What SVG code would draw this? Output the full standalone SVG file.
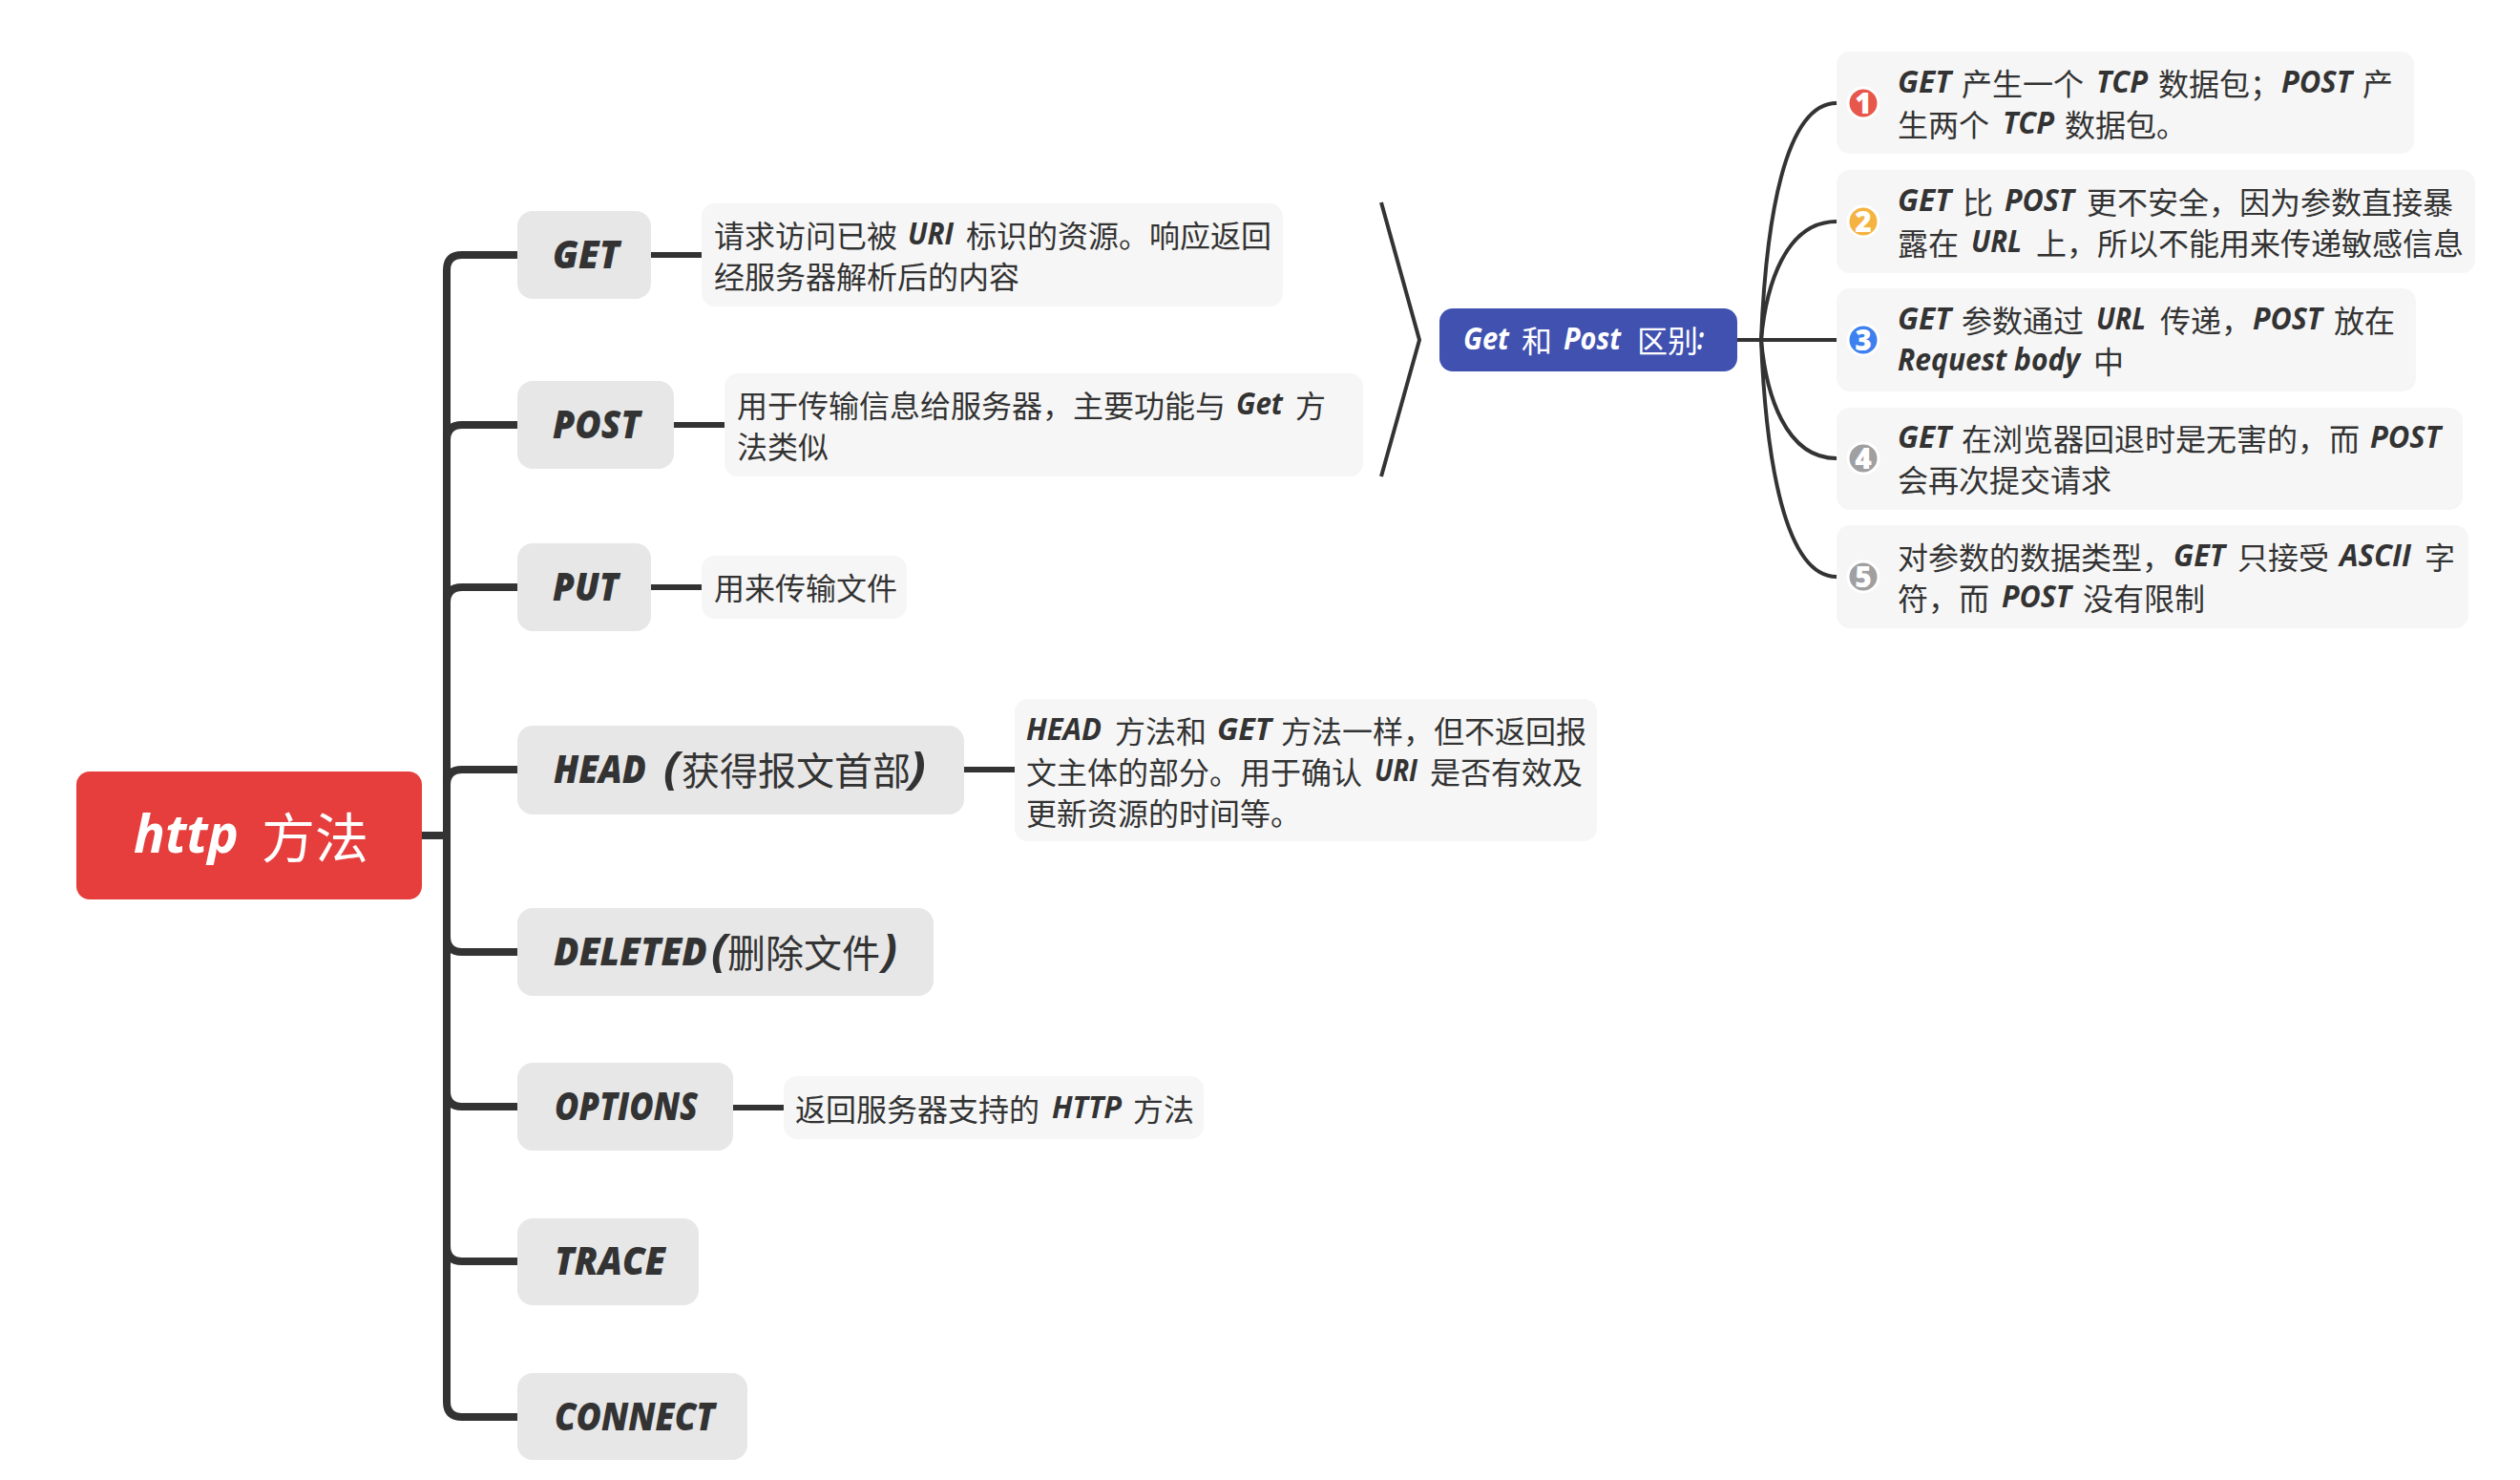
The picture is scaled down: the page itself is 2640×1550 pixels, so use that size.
<svg xmlns="http://www.w3.org/2000/svg" width="2640" height="1550" viewBox="0 0 2640 1550">
<style>
text{font-family:"Noto Sans CJK SC","Noto Sans",sans-serif;font-size:32px;fill:#333;font-weight:400}
.l{font-family:"Open Sans","Noto Sans",sans-serif;font-style:italic;font-weight:700;baseline-shift:3px}
.m{font-size:40px;font-weight:400}
.m .l{baseline-shift:0;font-weight:800}
.m.m2 .l{baseline-shift:2px}
.m .p{font-size:46px;font-weight:700}
.w{fill:#fff;font-weight:400}
.w .l{fill:#fff;font-weight:700}
.n{fill:#e7e7e7}
.t{fill:#f6f6f6}
.tr{fill:none;stroke:#333;stroke-width:8}
.br{fill:none;stroke:#333;stroke-width:6}
.th{fill:none;stroke:#333;stroke-width:4}
.mk{stroke:#fff;stroke-width:3}
.d{font-family:"Open Sans",sans-serif;font-size:30px;font-weight:800;fill:#fff;text-anchor:middle}
</style>
<rect width="2640" height="1550" fill="#fff"/>
<g id="connectors">
<path class="tr" d="M442 875H468"/>
<path class="tr" d="M468 875V283Q468 267 484 267H542"/>
<path class="tr" d="M468 875V461Q468 445 484 445H542"/>
<path class="tr" d="M468 875V631Q468 615 484 615H542"/>
<path class="tr" d="M468 875V822Q468 806 484 806H542"/>
<path class="tr" d="M468 875V981Q468 997 484 997H542"/>
<path class="tr" d="M468 875V1143Q468 1159 484 1159H542"/>
<path class="tr" d="M468 875V1305Q468 1321 484 1321H542"/>
<path class="tr" d="M468 875V1468Q468 1484 484 1484H542"/>
<path class="br" d="M682 267H735"/>
<path class="br" d="M706 445H759"/>
<path class="br" d="M682 615H735"/>
<path class="br" d="M1010 806H1063"/>
<path class="br" d="M768 1160H821"/>
<path class="th" d="M1447 212L1487 356L1447 499"/>
<path class="th" d="M1820 356H1924"/>
<path class="th" d="M1845 356C1850 230 1870 108 1924 108"/>
<path class="th" d="M1845 356C1850 300 1870 232 1924 232"/>
<path class="th" d="M1845 356C1850 412 1870 480 1924 480"/>
<path class="th" d="M1845 356C1850 482 1870 604 1924 604"/>
</g>
<g id="root"><rect x="80" y="808" width="362" height="134" rx="14" fill="#e53e3c"/>
<text class="w" y="898" style="font-size:56px"><tspan class="l" style="baseline-shift:5px" x="140" textLength="110" lengthAdjust="spacingAndGlyphs">http</tspan><tspan x="274">方法</tspan></text></g>
<g id="get"><rect class="n" x="542" y="221" width="140" height="92" rx="16"/><text class="m" y="281"><tspan class="l" x="579" textLength="70" lengthAdjust="spacingAndGlyphs">GET</tspan></text></g>
<g id="get-note"><rect class="t" x="735" y="213" width="609" height="108" rx="14"/>
<text y="259"><tspan x="748">请求访问已被</tspan><tspan class="l" x="951" textLength="48" lengthAdjust="spacingAndGlyphs">URI</tspan><tspan x="1012">标识的资源。响应返回</tspan></text>
<text y="302"><tspan x="748">经服务器解析后的内容</tspan></text></g>
<g id="post"><rect class="n" x="542" y="399" width="164" height="92" rx="16"/><text class="m" y="459"><tspan class="l" x="579" textLength="92" lengthAdjust="spacingAndGlyphs">POST</tspan></text></g>
<g id="post-note"><rect class="t" x="759" y="391" width="669" height="108" rx="14"/>
<text y="437"><tspan x="772">用于传输信息给服务器，主要功能与</tspan><tspan class="l" x="1295" textLength="49" lengthAdjust="spacingAndGlyphs">Get</tspan><tspan x="1357">方</tspan></text>
<text y="480"><tspan x="772">法类似</tspan></text></g>
<g id="put"><rect class="n" x="542" y="569" width="140" height="92" rx="16"/><text class="m" y="629"><tspan class="l" x="579" textLength="69" lengthAdjust="spacingAndGlyphs">PUT</tspan></text></g>
<g id="put-note"><rect class="t" x="735" y="582" width="215" height="66" rx="14"/><text y="628"><tspan x="748">用来传输文件</tspan></text></g>
<g id="head"><rect class="n" x="542" y="760" width="468" height="93" rx="16"/>
<text class="m m2" y="822"><tspan class="l" x="580" textLength="97" lengthAdjust="spacingAndGlyphs">HEAD</tspan><tspan class="l p" x="695" textLength="17" lengthAdjust="spacingAndGlyphs">(</tspan><tspan x="714">获得报文首部</tspan><tspan class="l p" x="952" textLength="18" lengthAdjust="spacingAndGlyphs">)</tspan></text></g>
<g id="head-note"><rect class="t" x="1063" y="732" width="610" height="149" rx="14"/>
<text y="778"><tspan class="l" x="1075" textLength="79" lengthAdjust="spacingAndGlyphs">HEAD</tspan><tspan x="1168">方法和</tspan><tspan class="l" x="1275" textLength="57" lengthAdjust="spacingAndGlyphs">GET</tspan><tspan x="1342">方法一样，但不返回报</tspan></text>
<text y="821"><tspan x="1075">文主体的部分。用于确认</tspan><tspan class="l" x="1440" textLength="45" lengthAdjust="spacingAndGlyphs">URI</tspan><tspan x="1498">是否有效及</tspan></text>
<text y="864"><tspan x="1075">更新资源的时间等。</tspan></text></g>
<g id="deleted"><rect class="n" x="542" y="951" width="436" height="92" rx="16"/>
<text class="m m2" y="1013"><tspan class="l" x="580" textLength="161" lengthAdjust="spacingAndGlyphs">DELETED</tspan><tspan class="l p" x="745" textLength="17" lengthAdjust="spacingAndGlyphs">(</tspan><tspan x="762">删除文件</tspan><tspan class="l p" x="924" textLength="16" lengthAdjust="spacingAndGlyphs">)</tspan></text></g>
<g id="options"><rect class="n" x="542" y="1113" width="226" height="92" rx="16"/><text class="m" y="1173"><tspan class="l" x="581" textLength="150" lengthAdjust="spacingAndGlyphs">OPTIONS</tspan></text></g>
<g id="options-note"><rect class="t" x="821" y="1127" width="440" height="66" rx="14"/>
<text y="1174"><tspan x="833">返回服务器支持的</tspan><tspan class="l" x="1102" textLength="73" lengthAdjust="spacingAndGlyphs">HTTP</tspan><tspan x="1187">方法</tspan></text></g>
<g id="trace"><rect class="n" x="542" y="1276" width="190" height="91" rx="16"/><text class="m" y="1335"><tspan class="l" x="581" textLength="116" lengthAdjust="spacingAndGlyphs">TRACE</tspan></text></g>
<g id="connect"><rect class="n" x="542" y="1438" width="241" height="91" rx="16"/><text class="m" y="1498"><tspan class="l" x="581" textLength="168" lengthAdjust="spacingAndGlyphs">CONNECT</tspan></text></g>
<g id="compare"><rect x="1508" y="323" width="312" height="66" rx="14" fill="#4051b0"/>
<text class="w" y="369"><tspan class="l" x="1533" textLength="48" lengthAdjust="spacingAndGlyphs">Get</tspan><tspan x="1594">和</tspan><tspan class="l" x="1638" textLength="60" lengthAdjust="spacingAndGlyphs">Post</tspan><tspan x="1715">区别</tspan><tspan class="l" x="1778" textLength="7" lengthAdjust="spacingAndGlyphs">:</tspan></text></g>
<g id="item1"><rect class="t" x="1924" y="54" width="605" height="107" rx="14"/><circle class="mk" cx="1952" cy="108" r="16" fill="#e8574c"/><text class="d" x="1952" y="119">1</text>
<text y="100"><tspan class="l" x="1988" textLength="56" lengthAdjust="spacingAndGlyphs">GET</tspan><tspan x="2055">产生一个</tspan><tspan class="l" x="2196" textLength="54" lengthAdjust="spacingAndGlyphs">TCP</tspan><tspan x="2261">数据包；</tspan><tspan class="l" x="2390" textLength="74" lengthAdjust="spacingAndGlyphs">POST</tspan><tspan x="2475">产</tspan></text>
<text y="143"><tspan x="1988">生两个</tspan><tspan class="l" x="2098" textLength="54" lengthAdjust="spacingAndGlyphs">TCP</tspan><tspan x="2163">数据包。</tspan></text></g>
<g id="item2"><rect class="t" x="1924" y="178" width="669" height="108" rx="14"/><circle class="mk" cx="1952" cy="232" r="16" fill="#f5b342"/><text class="d" x="1952" y="243">2</text>
<text y="224"><tspan class="l" x="1988" textLength="56" lengthAdjust="spacingAndGlyphs">GET</tspan><tspan x="2056">比</tspan><tspan class="l" x="2100" textLength="73" lengthAdjust="spacingAndGlyphs">POST</tspan><tspan x="2186">更不安全，因为参数直接暴</tspan></text>
<text y="267"><tspan x="1988">露在</tspan><tspan class="l" x="2065" textLength="53" lengthAdjust="spacingAndGlyphs">URL</tspan><tspan x="2133">上，所以不能用来传递敏感信息</tspan></text></g>
<g id="item3"><rect class="t" x="1924" y="302" width="607" height="108" rx="14"/><circle class="mk" cx="1952" cy="356" r="16" fill="#3d80f0"/><text class="d" x="1952" y="367">3</text>
<text y="348"><tspan class="l" x="1988" textLength="56" lengthAdjust="spacingAndGlyphs">GET</tspan><tspan x="2055">参数通过</tspan><tspan class="l" x="2196" textLength="52" lengthAdjust="spacingAndGlyphs">URL</tspan><tspan x="2263">传递，</tspan><tspan class="l" x="2360" textLength="73" lengthAdjust="spacingAndGlyphs">POST</tspan><tspan x="2445">放在</tspan></text>
<text y="391"><tspan class="l" x="1988" textLength="191" lengthAdjust="spacingAndGlyphs">Request body</tspan><tspan x="2193">中</tspan></text></g>
<g id="item4"><rect class="t" x="1924" y="427" width="656" height="107" rx="14"/><circle class="mk" cx="1952" cy="480" r="16" fill="#a0a0a3"/><text class="d" x="1952" y="491">4</text>
<text y="472"><tspan class="l" x="1988" textLength="56" lengthAdjust="spacingAndGlyphs">GET</tspan><tspan x="2055">在浏览器回退时是无害的，</tspan><tspan x="2440">而</tspan><tspan class="l" x="2483" textLength="74" lengthAdjust="spacingAndGlyphs">POST</tspan></text>
<text y="515"><tspan x="1988">会再次提交请求</tspan></text></g>
<g id="item5"><rect class="t" x="1924" y="550" width="662" height="108" rx="14"/><circle class="mk" cx="1952" cy="604" r="16" fill="#a0a0a3"/><text class="d" x="1952" y="615">5</text>
<text y="596"><tspan x="1988">对参数的数据类型，</tspan><tspan class="l" x="2277" textLength="54" lengthAdjust="spacingAndGlyphs">GET</tspan><tspan x="2344">只接受</tspan><tspan class="l" x="2451" textLength="75" lengthAdjust="spacingAndGlyphs">ASCII</tspan><tspan x="2540">字</tspan></text>
<text y="639"><tspan x="1988">符，</tspan><tspan x="2052">而</tspan><tspan class="l" x="2097" textLength="73" lengthAdjust="spacingAndGlyphs">POST</tspan><tspan x="2182">没有限制</tspan></text></g>
</svg>
